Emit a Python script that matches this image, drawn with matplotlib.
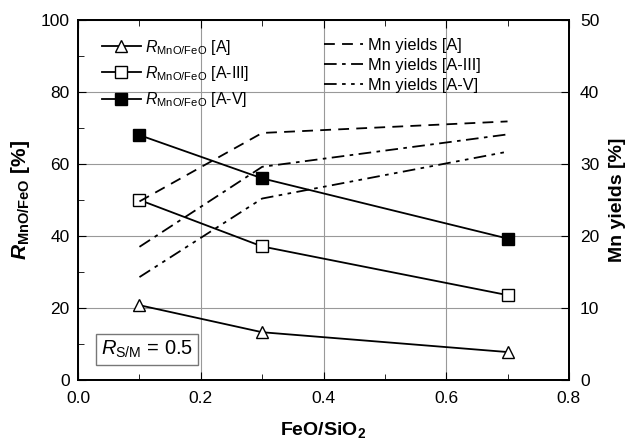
import numpy as np
import matplotlib
matplotlib.use('Agg')
from matplotlib import pyplot as plt
from matplotlib.ticker import MultipleLocator

plt.rcParams['font.family'] = 'Liberation Sans'
plt.rcParams['mathtext.fontset'] = 'custom'
plt.rcParams['mathtext.rm'] = 'Liberation Sans'
plt.rcParams['mathtext.it'] = 'Liberation Sans:italic'
plt.rcParams['mathtext.bf'] = 'Liberation Sans:bold'
plt.rcParams['mathtext.bfit'] = 'Liberation Sans:italic:bold'

# Data
feo_sio2 = [0.1, 0.3, 0.7]
r_A = [20.8, 13.3, 7.8]
r_AIII = [50.0, 37.1, 23.6]
r_AV = [68.0, 56.0, 39.3]
yield_A = [24.8, 34.3, 35.9]
yield_AIII = [18.5, 29.6, 34.1]
yield_AV = [14.3, 25.2, 31.7]

fig = plt.figure(figsize=(6.3, 4.4), dpi=100)
ax = fig.add_axes([0.124, 0.136, 0.779, 0.819])
ax2 = ax.twinx()

lab = r'$R_{\mathrm{MnO/FeO}}$'
ax.plot(feo_sio2, r_A, 'k-', marker='^', mfc='white', ms=8.5, lw=1.3, label=lab + ' [A]')
ax.plot(feo_sio2, r_AIII, 'k-', marker='s', mfc='white', ms=8.5, lw=1.3, label=lab + ' [A-III]')
ax.plot(feo_sio2, r_AV, 'k-', marker='s', mfc='black', ms=8.5, lw=1.3, label=lab + ' [A-V]')

ax2.plot(feo_sio2, yield_A, 'k', ls=(0, (6, 4)), lw=1.3, label='Mn yields [A]')
ax2.plot(feo_sio2, yield_AIII, 'k', ls=(0, (7, 3, 2, 3)), lw=1.3, label='Mn yields [A-III]')
ax2.plot(feo_sio2, yield_AV, 'k', ls=(0, (7, 3, 2, 3, 2, 3)), lw=1.3, label='Mn yields [A-V]')

ax.set_xlim(0, 0.8)
ax.set_ylim(0, 100)
ax2.set_ylim(0, 50)
ax.xaxis.set_major_locator(MultipleLocator(0.2))
ax.xaxis.set_minor_locator(MultipleLocator(0.1))
ax.yaxis.set_major_locator(MultipleLocator(20))
ax.yaxis.set_minor_locator(MultipleLocator(10))
ax2.yaxis.set_major_locator(MultipleLocator(10))
ax2.yaxis.set_minor_locator(MultipleLocator(5))
ax.grid(True, which='major', color='#999999', lw=0.8)
ax.set_axisbelow(True)

ax.tick_params(which='both', direction='in', top=True, labelsize=12.5)
ax.tick_params(axis='x', which='major', pad=8)
ax.tick_params(axis='y', which='major', pad=6)
ax.tick_params(which='major', length=6)
ax.tick_params(which='minor', length=4)
ax2.tick_params(which='both', direction='in', labelsize=12.5)
ax2.tick_params(which='major', length=6, pad=8)
ax2.tick_params(which='minor', length=0)
for a in (ax, ax2):
    for s in a.spines.values():
        s.set_linewidth(1.3)

ax.set_xlabel(r'FeO/SiO$_{\mathbf{2}}$', fontsize=14, fontweight='bold', labelpad=10)
ax.set_ylabel(r'$\mathbfit{R}_{\mathbf{MnO/FeO}}$ [%]', fontsize=15, fontweight='bold', labelpad=6)
ax2.set_ylabel('Mn yields [%]', fontsize=14, fontweight='bold', labelpad=7)

ax.legend(loc='upper left', bbox_to_anchor=(0.02, 0.99), frameon=False, fontsize=11.5,
          handlelength=2.4, labelspacing=0.45, handletextpad=0.3)
ax2.legend(loc='upper left', bbox_to_anchor=(0.47, 0.99), frameon=False, fontsize=11.8,
           handlelength=2.4, labelspacing=0.3, handletextpad=0.3)

ax.text(0.037, 8.5, r'$R_{\mathrm{S/M}}$ = 0.5', fontsize=14.5, va='center',
        bbox=dict(boxstyle='square,pad=0.25', fc='white', ec='#777777', lw=1))

fig.savefig('out.png', dpi=100)
